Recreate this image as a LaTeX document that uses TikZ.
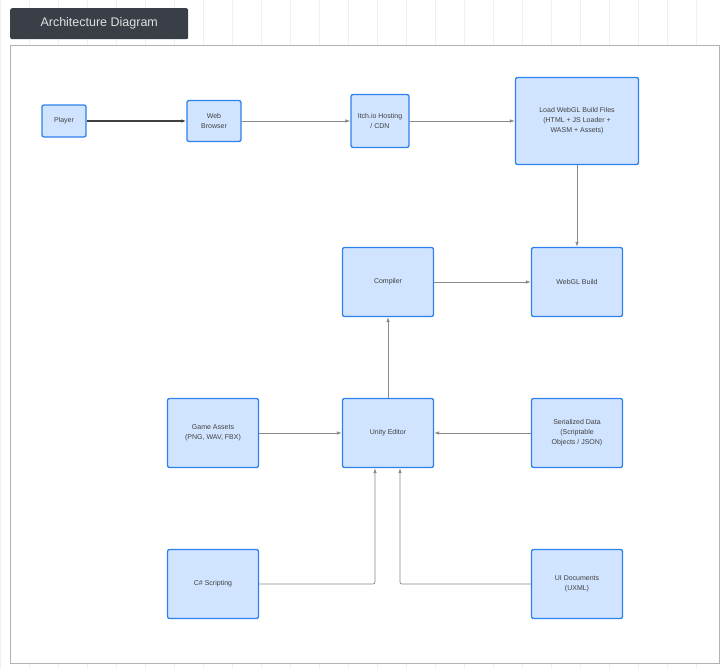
\documentclass[tikz,border=0pt]{standalone}
\usepackage{fontspec}
\setmainfont{Liberation Sans}
\usetikzlibrary{arrows.meta}
\definecolor{nfill}{HTML}{D0E4FF}
\definecolor{nedge}{HTML}{2F80ED}
\definecolor{ln}{HTML}{8A8A8A}
\definecolor{tbox}{HTML}{3A3F47}
\begin{document}
\begin{tikzpicture}[x=1pt,y=-1pt,
 box/.style={draw=nedge,line width=1.3pt,fill=nfill,rounded corners=2pt,align=center,font=\fontsize{7}{10}\selectfont,text=black!75,inner sep=0pt},
 con/.style={draw=ln,line width=0.7pt,-{Latex[length=5pt,width=3.5pt]}}]
\useasboundingbox (0,0) rectangle (725,669);
\draw[black!6,line width=0.6pt,step=29] (0,0) grid (725,669);
\node[fill=tbox,rounded corners=2pt,minimum width=178pt,minimum height=31pt,anchor=north west,text=white!88!black,font=\fontsize{12.5}{14}\selectfont] (title) at (10,8) {Architecture Diagram};
\node[draw=black!30,fill=white,minimum width=709pt,minimum height=618pt,anchor=north west,inner sep=0pt] (frame) at (10,45) {};
\node[box,minimum width=44pt,minimum height=32pt] (player) at (64,121) {Player};
\node[box,minimum width=54pt,minimum height=41pt] (web) at (214,121) {Web\\Browser};
\node[box,minimum width=58pt,minimum height=53pt] (itch) at (380,121) {Itch.io Hosting\\/ CDN};
\node[box,minimum width=123pt,minimum height=87pt] (load) at (577,121) {Load WebGL Build Files\\(HTML + JS Loader +\\WASM + Assets)};
\node[box,minimum width=91pt,minimum height=69pt] (build) at (577,282) {WebGL Build};
\node[box,minimum width=91pt,minimum height=69pt] (comp) at (388,282) {Compiler};
\node[box,minimum width=91pt,minimum height=69pt] (unity) at (388,433) {Unity Editor};
\node[box,minimum width=91pt,minimum height=69pt] (assets) at (213,433) {Game Assets\\(PNG, WAV, FBX)};
\node[box,minimum width=91pt,minimum height=69pt] (ser) at (577,433) {Serialized Data\\(Scriptable\\Objects / JSON)};
\node[box,minimum width=91pt,minimum height=69pt] (cs) at (213,584) {C\# Scripting};
\node[box,minimum width=91pt,minimum height=69pt] (ui) at (577,584) {UI Documents\\(UXML)};
\draw[con,draw=black!75,line width=1.2pt] (player) -- (web);
\draw[con] (web) -- (itch);
\draw[con] (itch) -- (load);
\draw[con] (load) -- (build);
\draw[con] (comp) -- (build);
\draw[con] (unity) -- (comp);
\draw[con] (assets) -- (unity);
\draw[con] (ser) -- (unity);
\draw[con,rounded corners=2pt] (cs.east) -| ([xshift=-13pt]unity.south);
\draw[con,rounded corners=2pt] (ui.west) -| ([xshift=12pt]unity.south);
\end{tikzpicture}
\end{document}
